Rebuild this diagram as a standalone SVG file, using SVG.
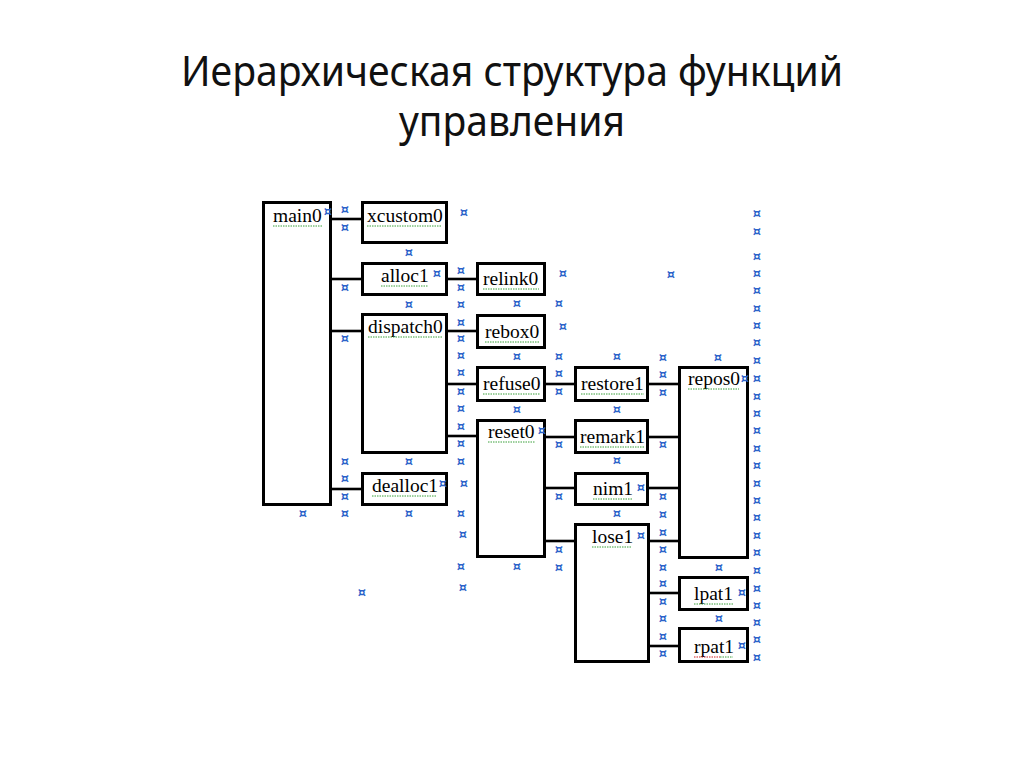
<svg xmlns="http://www.w3.org/2000/svg" width="1024" height="767" viewBox="0 0 1024 767">
<style>
.title{font-family:"Noto Sans","Open Sans","DejaVu Sans",sans-serif;font-size:42px;fill:#111}
.box{fill:#fff;stroke:#000;stroke-width:3}
.lbl{font-family:"Liberation Serif","Times New Roman",serif;font-size:19.5px;fill:#000}
.con line{stroke:#000;stroke-width:2.6}
.ul{fill:none;stroke:#3aa03a;stroke-width:1;stroke-dasharray:1.5 1}
.ulr{fill:none;stroke:#d02020;stroke-width:1;stroke-dasharray:1.5 1}
.mk{font-family:"DejaVu Sans",sans-serif;font-size:13px;font-weight:bold;fill:#2a62c9;text-anchor:middle}
</style>
<rect width="1024" height="767" fill="#fff"/>
<g id="title">
<text class="title" x="181" y="86" textLength="662" lengthAdjust="spacingAndGlyphs">Иерархическая структура функций</text>
<text class="title" x="399" y="136" textLength="226" lengthAdjust="spacingAndGlyphs">управления</text>
</g>
<g id="connectors" class="con">
<line x1="332" y1="219" x2="361" y2="219"/>
<line x1="332" y1="279" x2="361" y2="279"/>
<line x1="332" y1="331" x2="361" y2="331"/>
<line x1="332" y1="489" x2="361" y2="489"/>
<line x1="448" y1="279" x2="476" y2="279"/>
<line x1="448" y1="331" x2="476" y2="331"/>
<line x1="448" y1="384" x2="476" y2="384"/>
<line x1="448" y1="436" x2="476" y2="436"/>
<line x1="546" y1="384" x2="574" y2="384"/>
<line x1="546" y1="437" x2="574" y2="437"/>
<line x1="546" y1="488" x2="574" y2="488"/>
<line x1="546" y1="541" x2="574" y2="541"/>
<line x1="649" y1="384" x2="678" y2="384"/>
<line x1="649" y1="437" x2="678" y2="437"/>
<line x1="649" y1="488" x2="678" y2="488"/>
<line x1="650" y1="541" x2="678" y2="541"/>
<line x1="650" y1="593" x2="678" y2="593"/>
<line x1="650" y1="646" x2="678" y2="646"/>
</g>
<g id="main0"><rect class="box" x="263.5" y="202.5" width="67" height="302"/><text class="lbl" x="273" y="222">main0</text><path class="ul" d="M273 226H322"/></g>
<g id="xcustom0"><rect class="box" x="362.5" y="202.5" width="84" height="40"/><text class="lbl" x="367" y="222">xcustom0</text><path class="ul" d="M367 226H442"/></g>
<g id="alloc1"><rect class="box" x="362.5" y="263.5" width="84" height="31"/><text class="lbl" x="381" y="282">alloc1</text><path class="ul" d="M381 286H428"/></g>
<g id="dispatch0"><rect class="box" x="362.5" y="314.5" width="84" height="138"/><text class="lbl" x="368" y="333">dispatch0</text><path class="ul" d="M368 337H442"/></g>
<g id="dealloc1"><rect class="box" x="362.5" y="473.5" width="84" height="31"/><text class="lbl" x="372" y="492">dealloc1</text><path class="ul" d="M372 496H437"/></g>
<g id="relink0"><rect class="box" x="477.5" y="263.5" width="67" height="31"/><text class="lbl" x="483" y="285">relink0</text><path class="ul" d="M483 289H539"/></g>
<g id="rebox0"><rect class="box" x="477.5" y="315.5" width="67" height="32"/><text class="lbl" x="485" y="338">rebox0</text><path class="ul" d="M485 342H539"/></g>
<g id="refuse0"><rect class="box" x="477.5" y="367.5" width="67" height="33"/><text class="lbl" x="483" y="390">refuse0</text><path class="ul" d="M483 394H540"/></g>
<g id="reset0"><rect class="box" x="477.5" y="420.5" width="67" height="136"/><text class="lbl" x="488" y="438">reset0</text><path class="ul" d="M488 442H535"/></g>
<g id="restore1"><rect class="box" x="575.5" y="367.5" width="72" height="33"/><text class="lbl" x="581" y="390">restore1</text><path class="ul" d="M581 394H644"/></g>
<g id="remark1"><rect class="box" x="575.5" y="420.5" width="72" height="32"/><text class="lbl" x="580" y="443">remark1</text><path class="ul" d="M580 447H644"/></g>
<g id="nim1"><rect class="box" x="575.5" y="473.5" width="72" height="31"/><text class="lbl" x="593" y="495">nim1</text><path class="ul" d="M593 499H632"/></g>
<g id="lose1"><rect class="box" x="575.5" y="524.5" width="73" height="137"/><text class="lbl" x="592" y="543">lose1</text><path class="ul" d="M592 547H632"/></g>
<g id="repos0"><rect class="box" x="679.5" y="367.5" width="68" height="190"/><text class="lbl" x="688" y="385">repos0</text><path class="ul" d="M688 389H739"/></g>
<g id="lpat1"><rect class="box" x="679.5" y="577.5" width="68" height="32"/><text class="lbl" x="694" y="600">lpat1</text><path class="ul" d="M694 604H733"/></g>
<g id="rpat1"><rect class="box" x="679.5" y="628.5" width="68" height="33"/><text class="lbl" x="694" y="653">rpat1</text><path class="ulr" d="M694 657H720"/><path class="ul" d="M720 657H733"/></g>
<g id="marks" class="mk" transform="translate(0,1)">
<text x="328" y="215">¤</text>
<text x="345" y="213">¤</text><text x="345" y="231">¤</text><text x="345" y="291">¤</text><text x="345" y="342">¤</text>
<text x="345" y="465">¤</text><text x="345" y="482">¤</text><text x="345" y="500">¤</text><text x="345" y="517">¤</text>
<text x="303" y="517">¤</text>
<text x="409" y="256">¤</text><text x="409" y="308">¤</text><text x="409" y="465">¤</text><text x="409" y="517">¤</text>
<text x="437" y="277">¤</text><text x="443" y="487">¤</text>
<text x="464" y="216">¤</text>
<text x="461" y="274">¤</text><text x="461" y="291">¤</text><text x="461" y="308">¤</text><text x="461" y="326">¤</text>
<text x="461" y="342">¤</text><text x="461" y="359">¤</text><text x="461" y="376">¤</text><text x="461" y="395">¤</text>
<text x="461" y="412">¤</text><text x="461" y="430">¤</text><text x="461" y="447">¤</text><text x="461" y="465">¤</text>
<text x="464" y="487">¤</text><text x="461" y="517">¤</text><text x="463" y="538">¤</text><text x="461" y="570">¤</text><text x="463" y="591">¤</text>
<text x="362" y="596">¤</text>
<text x="517" y="307">¤</text><text x="517" y="360">¤</text><text x="517" y="413">¤</text><text x="517" y="570">¤</text>
<text x="559" y="307">¤</text><text x="559" y="360">¤</text><text x="559" y="377">¤</text><text x="559" y="395">¤</text>
<text x="559" y="448">¤</text><text x="559" y="500">¤</text><text x="559" y="553">¤</text><text x="559" y="571">¤</text>
<text x="563" y="277">¤</text><text x="563" y="330">¤</text>
<text x="542" y="434">¤</text>
<text x="617" y="360">¤</text><text x="617" y="413">¤</text><text x="617" y="464">¤</text><text x="617" y="517">¤</text>
<text x="641" y="491">¤</text><text x="641" y="539">¤</text>
<text x="663" y="361">¤</text><text x="663" y="378">¤</text><text x="663" y="396">¤</text><text x="663" y="448">¤</text>
<text x="663" y="500">¤</text><text x="663" y="518">¤</text><text x="663" y="536">¤</text><text x="663" y="553">¤</text>
<text x="663" y="571">¤</text><text x="663" y="587">¤</text><text x="663" y="605">¤</text><text x="663" y="622">¤</text>
<text x="663" y="640">¤</text><text x="663" y="657">¤</text>
<text x="718" y="361">¤</text>
<text x="671" y="278">¤</text>
<text x="745" y="382">¤</text>
<text x="719" y="571">¤</text><text x="719" y="622">¤</text>
<text x="742" y="596">¤</text><text x="742" y="649">¤</text>
<text x="757" y="217">¤</text><text x="757" y="235">¤</text><text x="757" y="260">¤</text><text x="757" y="277">¤</text>
<text x="757" y="294">¤</text><text x="757" y="312">¤</text><text x="757" y="329">¤</text><text x="757" y="346">¤</text>
<text x="757" y="364">¤</text><text x="757" y="382">¤</text><text x="757" y="400">¤</text><text x="757" y="417">¤</text>
<text x="757" y="434">¤</text><text x="757" y="452">¤</text><text x="757" y="469">¤</text><text x="757" y="487">¤</text>
<text x="757" y="504">¤</text><text x="757" y="521">¤</text><text x="757" y="539">¤</text><text x="757" y="556">¤</text>
<text x="757" y="574">¤</text><text x="757" y="592">¤</text><text x="757" y="609">¤</text><text x="757" y="626">¤</text>
<text x="757" y="643">¤</text><text x="757" y="661">¤</text>
</g>
</svg>
